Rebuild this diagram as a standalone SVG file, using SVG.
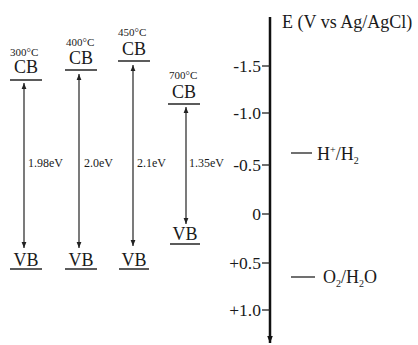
<svg xmlns="http://www.w3.org/2000/svg" width="418" height="345" viewBox="0 0 418 345">
<defs>
<marker id="ah" viewBox="0 0 10 10" refX="10" refY="5" markerWidth="6" markerHeight="6" markerUnits="userSpaceOnUse" orient="auto-start-reverse">
<path d="M0,1 L10,5 L0,9 z" fill="#222"/>
</marker>
<marker id="axh" viewBox="0 0 10 10" refX="10" refY="5" markerWidth="7" markerHeight="7" markerUnits="userSpaceOnUse" orient="auto">
<path d="M0,1 L10,5 L0,9 z" fill="#111"/>
</marker>
</defs>
<style>
text{font-family:"Liberation Serif","DejaVu Serif",serif;fill:#1a1a1a}
.t{font-size:11px}
.b{font-size:18px}
.e{font-size:12px}
.ax{font-size:17.5px}
.lvl{stroke:#333;stroke-width:1.6}
.gap{stroke:#222;stroke-width:1.2;marker-start:url(#ah);marker-end:url(#ah)}
</style>
<rect width="418" height="345" fill="#fff"/>
<g id="s300">
<text class="t" x="10" y="56">300°C</text>
<text class="b" x="26" y="73" text-anchor="middle">CB</text>
<line class="lvl" x1="10" y1="80" x2="42" y2="80"/>
<text class="b" x="26" y="266" text-anchor="middle">VB</text>
<line class="lvl" x1="10" y1="269" x2="42" y2="269"/>
<text class="e" x="28" y="167">1.98eV</text>
</g>
<g id="s400">
<text class="t" x="66" y="46">400°C</text>
<text class="b" x="81" y="64" text-anchor="middle">CB</text>
<line class="lvl" x1="65" y1="70" x2="97" y2="70"/>
<text class="b" x="81" y="266" text-anchor="middle">VB</text>
<line class="lvl" x1="65" y1="269" x2="97" y2="269"/>
<text class="e" x="84" y="167">2.0eV</text>
</g>
<g id="s450">
<text class="t" x="118" y="36">450°C</text>
<text class="b" x="134" y="55" text-anchor="middle">CB</text>
<line class="lvl" x1="118" y1="61" x2="150" y2="61"/>
<text class="b" x="134" y="266" text-anchor="middle">VB</text>
<line class="lvl" x1="119" y1="269" x2="149" y2="269"/>
<text class="e" x="137" y="167">2.1eV</text>
</g>
<g id="s700">
<text class="t" x="169" y="79">700°C</text>
<text class="b" x="184" y="98" text-anchor="middle">CB</text>
<line class="lvl" x1="168" y1="104" x2="200" y2="104"/>
<text class="b" x="185" y="240" text-anchor="middle">VB</text>
<line class="lvl" x1="170" y1="244" x2="200" y2="244"/>
<text class="e" x="189" y="167">1.35eV</text>
</g>
<g id="axis">
<line x1="270" y1="17" x2="270" y2="343" stroke="#111" stroke-width="2.5" marker-end="url(#axh)"/>
<text x="282" y="28" font-size="18">E (V vs Ag/AgCl)</text>
<g stroke="#222" stroke-width="1.3">
<line x1="262" y1="66" x2="270" y2="66"/>
<line x1="262" y1="113" x2="270" y2="113"/>
<line x1="262" y1="165" x2="270" y2="165"/>
<line x1="262" y1="214" x2="270" y2="214"/>
<line x1="262" y1="263" x2="270" y2="263"/>
<line x1="262" y1="310" x2="270" y2="310"/>
</g>
<g class="ax" text-anchor="end">
<text x="261" y="72">-1.5</text>
<text x="261" y="119">-1.0</text>
<text x="261" y="171">-0.5</text>
<text x="261" y="220">0</text>
<text x="261" y="269">+0.5</text>
<text x="261" y="316">+1.0</text>
</g>
</g>
<g id="hh2">
<line x1="291" y1="153" x2="312" y2="153" stroke="#222" stroke-width="1.3"/>
<text x="317" y="160" font-size="18">H<tspan font-size="10" dy="-7">+</tspan><tspan dy="7">/H</tspan><tspan font-size="10" dy="4">2</tspan></text>
</g>
<g id="o2h2o">
<line x1="291" y1="277" x2="315" y2="277" stroke="#222" stroke-width="1.3"/>
<text x="323" y="283" font-size="18">O<tspan font-size="10" dy="4">2</tspan><tspan dy="-4">/H</tspan><tspan font-size="10" dy="4">2</tspan><tspan dy="-4">O</tspan></text>
</g>
<g id="connectors">
<line class="gap" x1="24" y1="83" x2="24" y2="248"/>
<line class="gap" x1="79" y1="74" x2="79" y2="248"/>
<line class="gap" x1="133" y1="65" x2="133" y2="246"/>
<line class="gap" x1="186" y1="107" x2="186" y2="224"/>
</g>
</svg>
